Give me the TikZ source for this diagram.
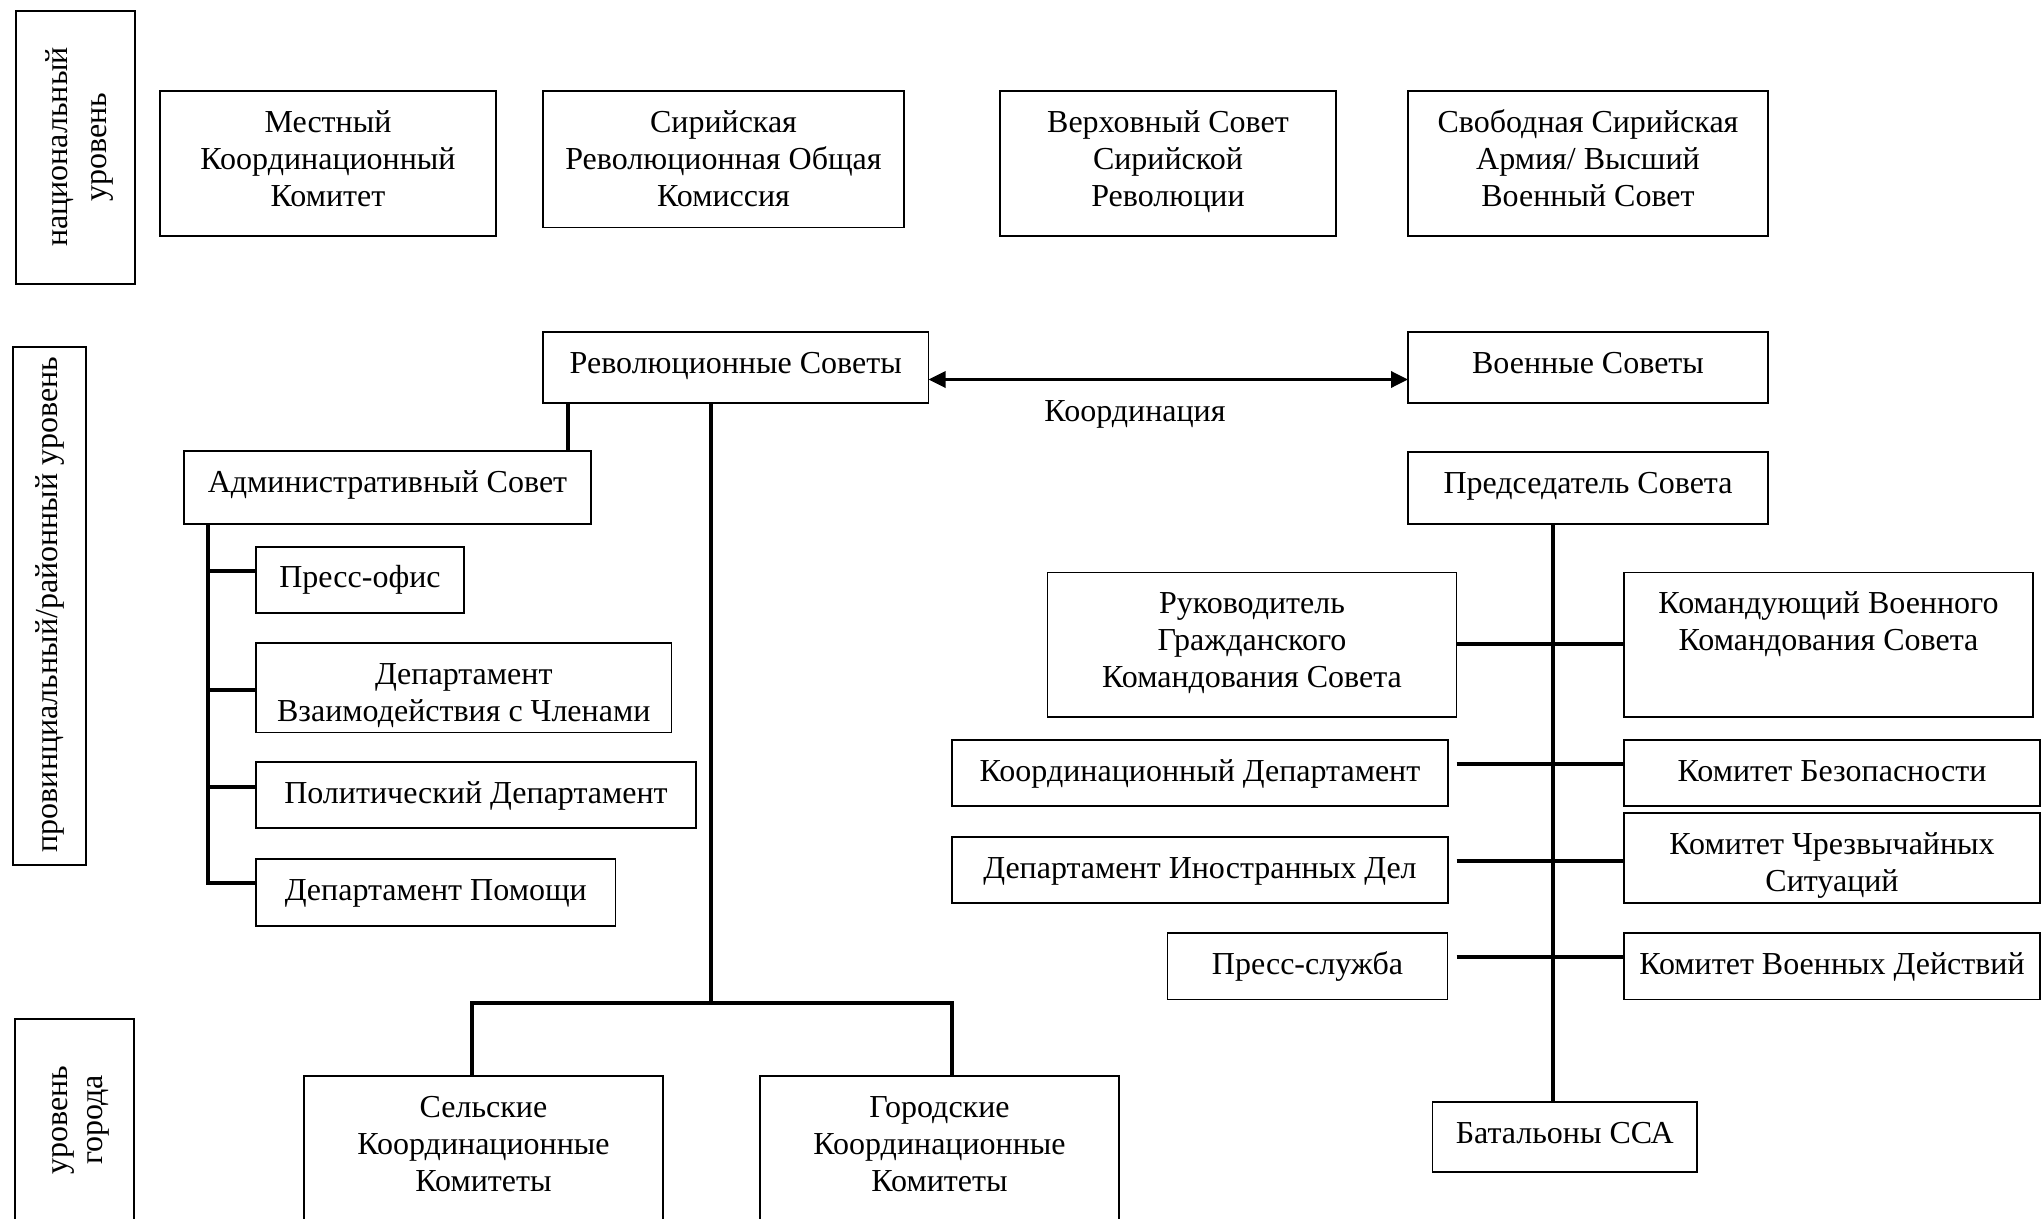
\documentclass[tikz,border=0pt]{standalone}
\usepackage{fontspec}
\setmainfont{Liberation Serif}
\usetikzlibrary{arrows.meta}
\newcommand\mystrut{\rule{0pt}{30pt}}
\newcommand\mybox[6]{%
  \node[box, minimum width=#4pt, minimum height=#5pt] (#1) at (#2,#3) {};%
  \node[lbl, anchor=north, yshift=-11pt] (#1T) at (#1.north) {\mystrut#6};}
\begin{document}
\begin{tikzpicture}[x=1pt,y=-1pt,
  box/.style={draw, line width=1.8pt, inner sep=0pt, outer sep=0pt},
  lbl/.style={align=center, inner sep=0pt, outer sep=0pt, font=\fontsize{32}{37.2}\selectfont},
  conn/.style={line width=3.6pt},
]
\useasboundingbox (0,0) rectangle (2042,1218);
\fill[white] (0,0) rectangle (2042,1218);
\clip (0,0) rectangle (2042,1218);

% level labels
\node[box, minimum width=119pt, minimum height=273pt] (nat) at (75.3,147.5) {};
\node[lbl, rotate=90, anchor=north, font=\fontsize{32}{39}\selectfont] (natT) at (37,147) {\mystrut национальный\\уровень};
\node[box, minimum width=73pt, minimum height=518pt] (prov) at (49.5,606) {};
\node[lbl, rotate=90, anchor=north] (provT) at (27.7,604.5) {\mystrut провинциальный/районный уровень};
\node[box, minimum width=119pt, minimum height=202pt] (city) at (74.5,1120) {};
\node[lbl, rotate=90, anchor=north, font=\fontsize{32}{35}\selectfont] (cityT) at (37.5,1120) {\mystrut уровень\\города};

% national row
\mybox{mest}{328}{163.5}{336}{145}{Местный\\Координационный\\Комитет}
\mybox{sir}{723.5}{159.3}{361}{136.5}{Сирийская\\Революционная Общая\\Комиссия}
\mybox{verh}{1168}{163.5}{336}{145}{Верховный Совет\\Сирийской\\Революции}
\mybox{svob}{1588}{163.5}{360}{145}{Свободная Сирийская\\Армия/ Высший\\Военный Совет}

% provincial
\mybox{rev}{735.75}{367.5}{385.5}{71}{Революционные Советы}
\mybox{mil}{1588}{367.5}{360}{71}{Военные Советы}
\mybox{adm}{387.5}{487.5}{407}{73}{Административный Совет}
\mybox{chair}{1588}{488}{360}{72}{Председатель Совета}

\mybox{press}{360}{580}{208}{66.5}{Пресс-офис}
\mybox{vzaim}{463.75}{687.75}{415.5}{89.5}{Департамент\\Взаимодействия с Членами}
\mybox{polit}{476}{795}{440}{66}{Политический Департамент}
\mybox{pom}{435.75}{892.5}{359.5}{67}{Департамент Помощи}

\mybox{ruk}{1252}{644.75}{409}{144.5}{Руководитель\\Гражданского\\Командования Совета}
\mybox{kom}{1828.5}{644.75}{409}{144.5}{Командующий Военного\\Командования Совета}
\mybox{koord}{1200}{773}{496}{66}{Координационный Департамент}
\mybox{bez}{1832}{773}{416}{66}{Комитет Безопасности}
\mybox{inostr}{1200}{870}{496}{66}{Департамент Иностранных Дел}
\mybox{chrez}{1832}{858}{416}{90}{Комитет Чрезвычайных\\Ситуаций}
\mybox{pressl}{1307.5}{966.25}{280}{66.5}{Пресс-служба}
\mybox{voend}{1832}{966.25}{416}{66.5}{Комитет Военных Действий}
\mybox{bat}{1564.75}{1137}{264.5}{70}{Батальоны ССА}

% city
\mybox{sel}{483.5}{1150}{359}{148}{Сельские\\Координационные\\Комитеты}
\mybox{gor}{939.5}{1150}{359}{148}{Городские\\Координационные\\Комитеты}

% helper coordinates
\coordinate (xa) at (568,0);
\coordinate (xm) at (711,0);
\coordinate (xl) at (208,0);
\coordinate (xs) at (1553,0);
\coordinate (xsel) at (472,0);
\coordinate (xgor) at (952,0);
\coordinate (bar) at (711,1003);
\coordinate (b1) at (208,571);
\coordinate (b2) at (208,690);
\coordinate (b3) at (208,787);
\coordinate (b4) at (208,883);
\coordinate (r1) at (1456.7,644);
\coordinate (r2) at (1456.7,764);
\coordinate (r3) at (1456.7,861);
\coordinate (r4) at (1456.7,957);
\coordinate (arr) at (0,379.5);

% connectors
\draw[conn] (xa |- rev.south) -- (xa |- adm.north);
\draw[conn] (xm |- rev.south) -- (bar);
\draw[conn] (xsel |- sel.north) -- (xsel |- bar) -- (xgor |- bar) -- (xgor |- gor.north);
\draw[conn] (xl |- adm.south) -- (b4) -- (b4 -| pom.west);
\draw[conn] (b1) -- (b1 -| press.west);
\draw[conn] (b2) -- (b2 -| vzaim.west);
\draw[conn] (b3) -- (b3 -| polit.west);

\draw[conn] (xs |- chair.south) -- (xs |- bat.north);
\draw[conn] (r1 -| ruk.east) -- (r1 -| kom.west);
\draw[conn] (r2) -- (r2 -| bez.west);
\draw[conn] (r3) -- (r3 -| chrez.west);
\draw[conn] (r4) -- (r4 -| voend.west);

\draw[line width=3.4pt, {Triangle[length=17pt,width=16pt]}-{Triangle[length=17pt,width=16pt]}] (rev.east |- arr) -- (mil.west |- arr);
\node[lbl] (coordT) at (1135,414.5) {Координация};
\end{tikzpicture}
\end{document}
